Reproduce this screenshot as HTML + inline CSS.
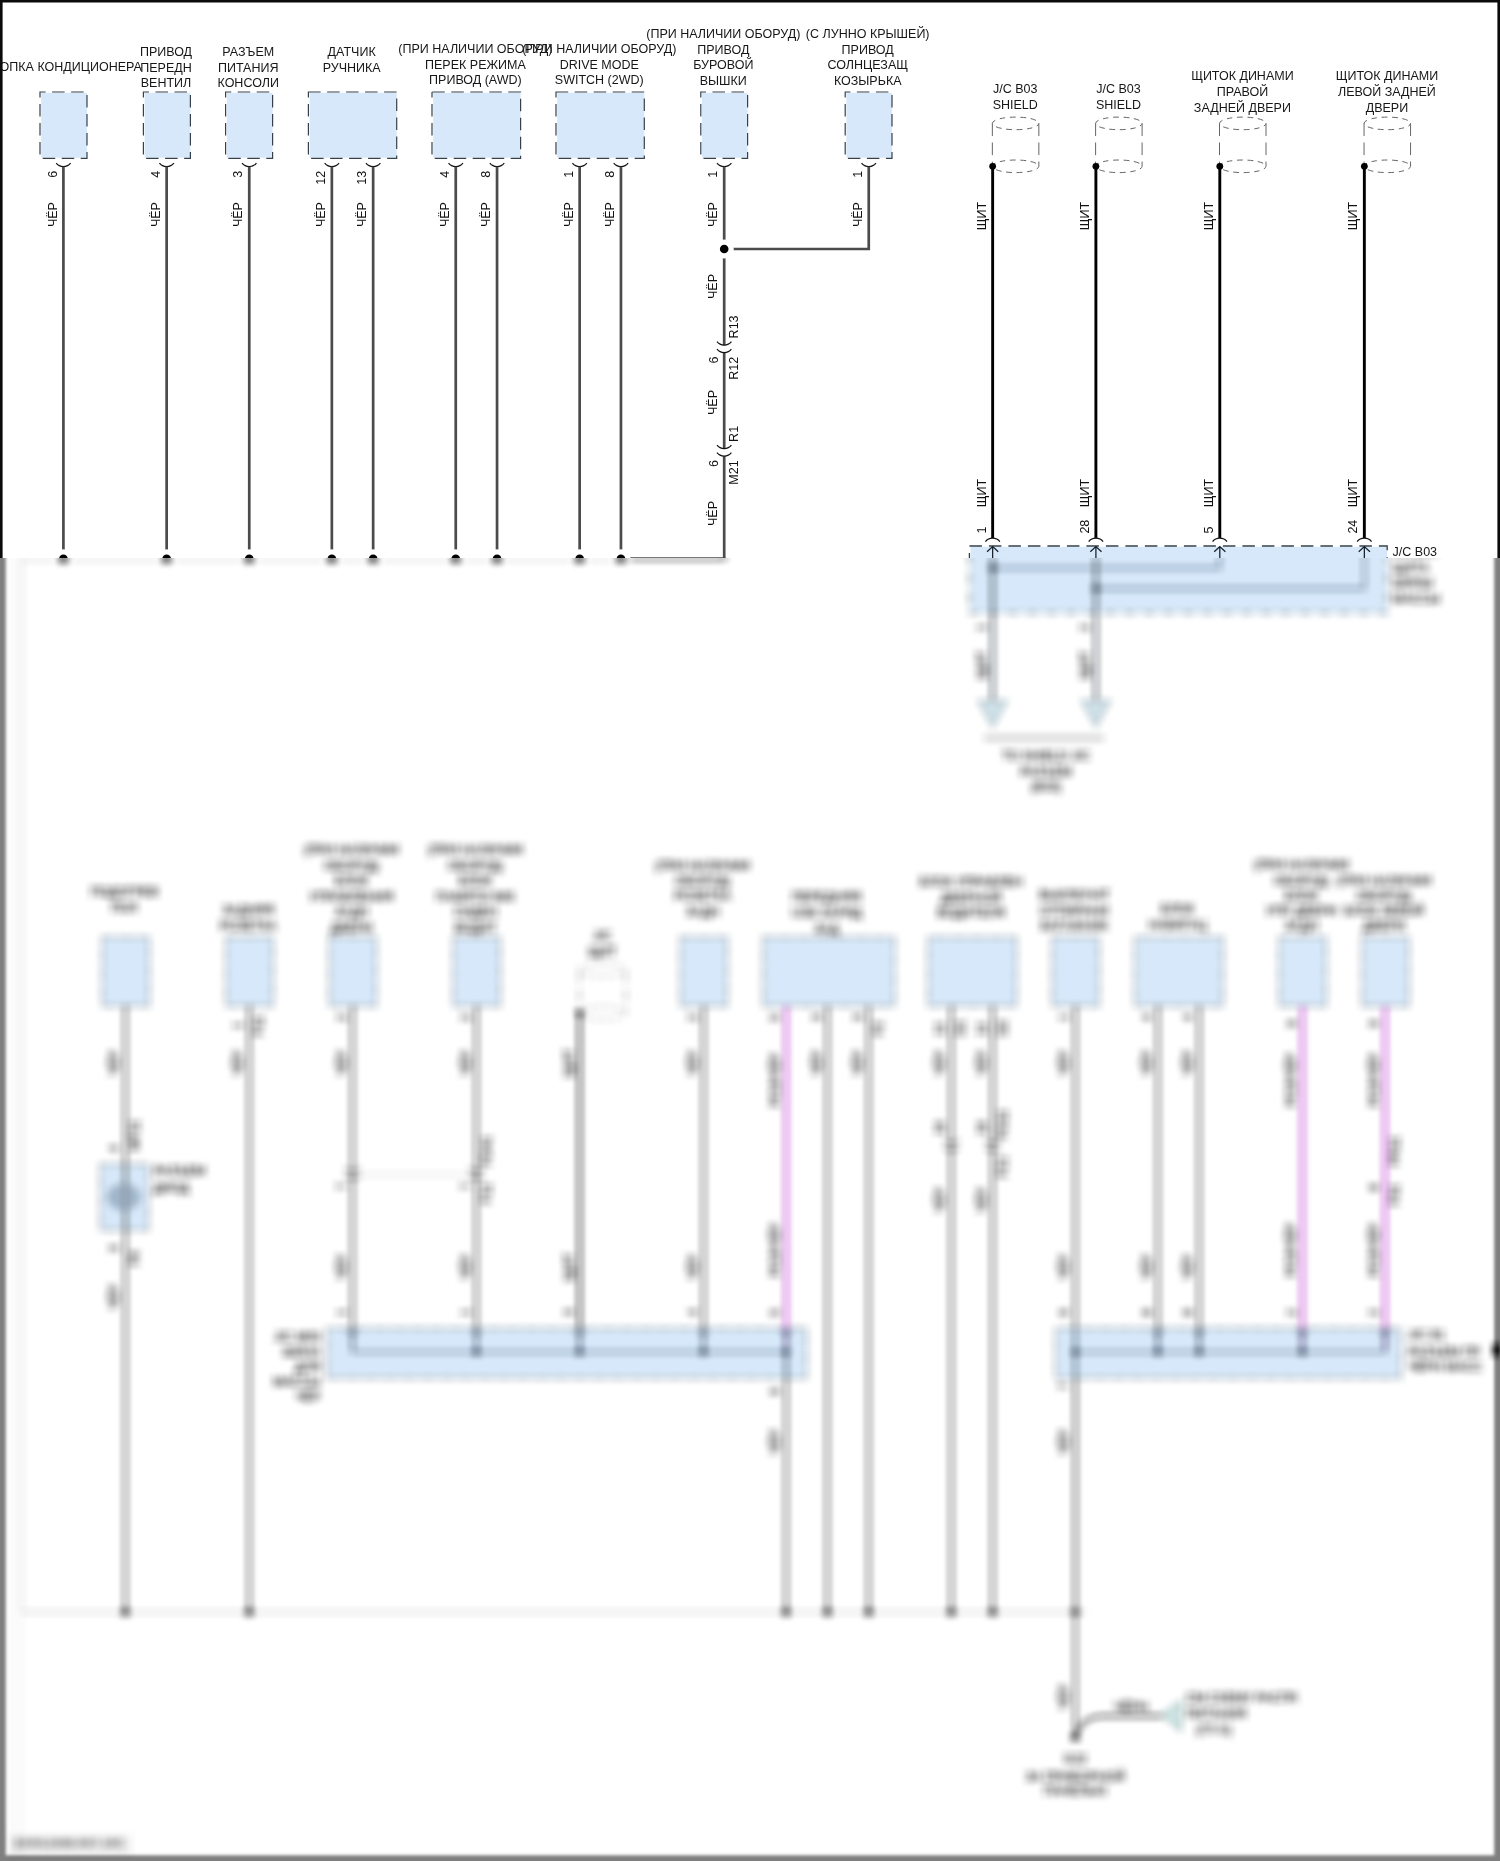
<!DOCTYPE html>
<html lang="ru">
<head>
<meta charset="utf-8">
<title>Схема электрических соединений</title>
<style>
html,body{margin:0;padding:0;background:#fff;}
#page{position:relative;width:1500px;height:1861px;overflow:hidden;background:#fff;}
#page svg{position:absolute;left:0;top:0;display:block;will-change:transform;}
#page text{font-family:"Liberation Sans",sans-serif;}
#bottom text{fill:#1c1c1c;stroke:#1c1c1c;stroke-width:.3px;}
#bottom text.code{fill:#666;stroke:none;}
#edge-l{position:absolute;left:0;top:558px;width:32px;height:1303px;background:linear-gradient(to right,rgba(0,0,0,0) 0,rgba(0,0,0,0) 7px,rgba(0,0,0,.016) 12px,rgba(0,0,0,.016) 22px,rgba(0,0,0,0) 29px);}
</style>
</head>
<body>
<div id="page">
<svg width="1500" height="1861" viewBox="0 0 1500 1861">
<defs>
<clipPath id="ctop"><rect x="0" y="0" width="1500" height="558"/></clipPath>
<clipPath id="cbot"><rect x="0" y="558" width="1500" height="1303"/></clipPath>
<filter id="edgeblur" filterUnits="userSpaceOnUse" x="-30" y="480" width="1560" height="1420"><feGaussianBlur stdDeviation="1.4"/></filter>
<filter id="soft" filterUnits="userSpaceOnUse" x="0" y="540" width="1500" height="1326" color-interpolation-filters="sRGB">
<feConvolveMatrix order="11 1" kernelMatrix="1 1 1 1 1 1 1 1 1 1 1" divisor="11" edgeMode="duplicate" preserveAlpha="false" result="a"/><feConvolveMatrix in="a" order="1 11" kernelMatrix="1 1 1 1 1 1 1 1 1 1 1" divisor="11" edgeMode="duplicate" preserveAlpha="false" result="b"/><feGaussianBlur in="b" stdDeviation="1.8"/>
</filter>
<g id="dwg">
<g id="top">
<path d="M620.95,558.60H725.55" stroke="#4b4b4b" stroke-width="2.7" fill="none"/>
<path d="M22.00,559.60H620.95" stroke="#9a9a9a" stroke-width="1" fill="none"/>
<rect x="41.20" y="92.80" width="45.80" height="64.90" fill="#d6e8f9"/>
<path d="M40.00,92.00V158.30H87.00V92.00Z" fill="none" stroke="#36414b" stroke-width="1.2" stroke-dasharray="12.5 6.5" stroke-dashoffset="7"/>
<text x="62.60" y="71.40" text-anchor="middle" font-size="12.5" fill="#161616">КНОПКА КОНДИЦИОНЕРА</text>
<path d="M56.20,163.10Q58.80,166.50 63.40,166.50Q68.00,166.50 70.60,163.10" stroke="#111" stroke-width="1.25" fill="none"/>
<text transform="translate(56.50,170.80) rotate(-90)" text-anchor="end" font-size="12.5" fill="#111">6</text>
<text transform="translate(56.50,214.60) rotate(-90)" text-anchor="middle" font-size="12.5" fill="#111">ЧЁР</text>
<path d="M63.40,166.70V558.60" stroke="#4b4b4b" stroke-width="2.7" fill="none"/>
<circle cx="63.40" cy="558.80" r="9.6" fill="#fff"/>
<circle cx="63.40" cy="558.80" r="4.3" fill="#000"/>
<rect x="144.60" y="92.80" width="45.80" height="64.90" fill="#d6e8f9"/>
<path d="M143.40,92.00V158.30H190.40V92.00Z" fill="none" stroke="#36414b" stroke-width="1.2" stroke-dasharray="12.5 6.5" stroke-dashoffset="7"/>
<text x="166.00" y="56.00" text-anchor="middle" font-size="12.5" fill="#161616">ПРИВОД</text>
<text x="166.00" y="71.50" text-anchor="middle" font-size="12.5" fill="#161616">ПЕРЕДН</text>
<text x="166.00" y="87.00" text-anchor="middle" font-size="12.5" fill="#161616">ВЕНТИЛ</text>
<path d="M159.45,163.10Q162.05,166.50 166.65,166.50Q171.25,166.50 173.85,163.10" stroke="#111" stroke-width="1.25" fill="none"/>
<text transform="translate(159.75,170.80) rotate(-90)" text-anchor="end" font-size="12.5" fill="#111">4</text>
<text transform="translate(159.75,214.60) rotate(-90)" text-anchor="middle" font-size="12.5" fill="#111">ЧЁР</text>
<path d="M166.65,166.70V558.60" stroke="#4b4b4b" stroke-width="2.7" fill="none"/>
<circle cx="166.65" cy="558.80" r="9.6" fill="#fff"/>
<circle cx="166.65" cy="558.80" r="4.3" fill="#000"/>
<rect x="226.80" y="92.80" width="45.80" height="64.90" fill="#d6e8f9"/>
<path d="M225.60,92.00V158.30H272.60V92.00Z" fill="none" stroke="#36414b" stroke-width="1.2" stroke-dasharray="12.5 6.5" stroke-dashoffset="7"/>
<text x="248.20" y="56.00" text-anchor="middle" font-size="12.5" fill="#161616">РАЗЪЕМ</text>
<text x="248.20" y="71.50" text-anchor="middle" font-size="12.5" fill="#161616">ПИТАНИЯ</text>
<text x="248.20" y="87.00" text-anchor="middle" font-size="12.5" fill="#161616">КОНСОЛИ</text>
<path d="M242.05,163.10Q244.65,166.50 249.25,166.50Q253.85,166.50 256.45,163.10" stroke="#111" stroke-width="1.25" fill="none"/>
<text transform="translate(242.35,170.80) rotate(-90)" text-anchor="end" font-size="12.5" fill="#111">3</text>
<text transform="translate(242.35,214.60) rotate(-90)" text-anchor="middle" font-size="12.5" fill="#111">ЧЁР</text>
<path d="M249.25,166.70V558.60" stroke="#4b4b4b" stroke-width="2.7" fill="none"/>
<circle cx="249.25" cy="558.80" r="9.6" fill="#fff"/>
<circle cx="249.25" cy="558.80" r="4.3" fill="#000"/>
<rect x="309.60" y="92.80" width="87.10" height="64.90" fill="#d6e8f9"/>
<path d="M308.40,92.00V158.30H396.70V92.00Z" fill="none" stroke="#36414b" stroke-width="1.2" stroke-dasharray="12.5 6.5" stroke-dashoffset="7"/>
<text x="351.65" y="56.00" text-anchor="middle" font-size="12.5" fill="#161616">ДАТЧИК</text>
<text x="351.65" y="71.50" text-anchor="middle" font-size="12.5" fill="#161616">РУЧНИКА</text>
<path d="M324.65,163.10Q327.25,166.50 331.85,166.50Q336.45,166.50 339.05,163.10" stroke="#111" stroke-width="1.25" fill="none"/>
<text transform="translate(324.95,170.80) rotate(-90)" text-anchor="end" font-size="12.5" fill="#111">12</text>
<text transform="translate(324.95,214.60) rotate(-90)" text-anchor="middle" font-size="12.5" fill="#111">ЧЁР</text>
<path d="M331.85,166.70V558.60" stroke="#4b4b4b" stroke-width="2.7" fill="none"/>
<circle cx="331.85" cy="558.80" r="9.6" fill="#fff"/>
<circle cx="331.85" cy="558.80" r="4.3" fill="#000"/>
<path d="M365.95,163.10Q368.55,166.50 373.15,166.50Q377.75,166.50 380.35,163.10" stroke="#111" stroke-width="1.25" fill="none"/>
<text transform="translate(366.25,170.80) rotate(-90)" text-anchor="end" font-size="12.5" fill="#111">13</text>
<text transform="translate(366.25,214.60) rotate(-90)" text-anchor="middle" font-size="12.5" fill="#111">ЧЁР</text>
<path d="M373.15,166.70V558.60" stroke="#4b4b4b" stroke-width="2.7" fill="none"/>
<circle cx="373.15" cy="558.80" r="9.6" fill="#fff"/>
<circle cx="373.15" cy="558.80" r="4.3" fill="#000"/>
<rect x="433.20" y="92.80" width="87.40" height="64.90" fill="#d6e8f9"/>
<path d="M432.00,92.00V158.30H520.60V92.00Z" fill="none" stroke="#36414b" stroke-width="1.2" stroke-dasharray="12.5 6.5" stroke-dashoffset="7"/>
<text x="475.40" y="53.40" text-anchor="middle" font-size="12.5" fill="#161616">(ПРИ НАЛИЧИИ ОБОРУД)</text>
<text x="475.40" y="68.90" text-anchor="middle" font-size="12.5" fill="#161616">ПЕРЕК РЕЖИМА</text>
<text x="475.40" y="84.40" text-anchor="middle" font-size="12.5" fill="#161616">ПРИВОД (AWD)</text>
<path d="M448.55,163.10Q451.15,166.50 455.75,166.50Q460.35,166.50 462.95,163.10" stroke="#111" stroke-width="1.25" fill="none"/>
<text transform="translate(448.85,170.80) rotate(-90)" text-anchor="end" font-size="12.5" fill="#111">4</text>
<text transform="translate(448.85,214.60) rotate(-90)" text-anchor="middle" font-size="12.5" fill="#111">ЧЁР</text>
<path d="M455.75,166.70V558.60" stroke="#4b4b4b" stroke-width="2.7" fill="none"/>
<circle cx="455.75" cy="558.80" r="9.6" fill="#fff"/>
<circle cx="455.75" cy="558.80" r="4.3" fill="#000"/>
<path d="M489.85,163.10Q492.45,166.50 497.05,166.50Q501.65,166.50 504.25,163.10" stroke="#111" stroke-width="1.25" fill="none"/>
<text transform="translate(490.15,170.80) rotate(-90)" text-anchor="end" font-size="12.5" fill="#111">8</text>
<text transform="translate(490.15,214.60) rotate(-90)" text-anchor="middle" font-size="12.5" fill="#111">ЧЁР</text>
<path d="M497.05,166.70V558.60" stroke="#4b4b4b" stroke-width="2.7" fill="none"/>
<circle cx="497.05" cy="558.80" r="9.6" fill="#fff"/>
<circle cx="497.05" cy="558.80" r="4.3" fill="#000"/>
<rect x="557.20" y="92.80" width="87.10" height="64.90" fill="#d6e8f9"/>
<path d="M556.00,92.00V158.30H644.30V92.00Z" fill="none" stroke="#36414b" stroke-width="1.2" stroke-dasharray="12.5 6.5" stroke-dashoffset="7"/>
<text x="599.25" y="53.40" text-anchor="middle" font-size="12.5" fill="#161616">(ПРИ НАЛИЧИИ ОБОРУД)</text>
<text x="599.25" y="68.90" text-anchor="middle" font-size="12.5" fill="#161616">DRIVE MODE</text>
<text x="599.25" y="84.40" text-anchor="middle" font-size="12.5" fill="#161616">SWITCH (2WD)</text>
<path d="M572.45,163.10Q575.05,166.50 579.65,166.50Q584.25,166.50 586.85,163.10" stroke="#111" stroke-width="1.25" fill="none"/>
<text transform="translate(572.75,170.80) rotate(-90)" text-anchor="end" font-size="12.5" fill="#111">1</text>
<text transform="translate(572.75,214.60) rotate(-90)" text-anchor="middle" font-size="12.5" fill="#111">ЧЁР</text>
<path d="M579.65,166.70V558.60" stroke="#4b4b4b" stroke-width="2.7" fill="none"/>
<circle cx="579.65" cy="558.80" r="9.6" fill="#fff"/>
<circle cx="579.65" cy="558.80" r="4.3" fill="#000"/>
<path d="M613.75,163.10Q616.35,166.50 620.95,166.50Q625.55,166.50 628.15,163.10" stroke="#111" stroke-width="1.25" fill="none"/>
<text transform="translate(614.05,170.80) rotate(-90)" text-anchor="end" font-size="12.5" fill="#111">8</text>
<text transform="translate(614.05,214.60) rotate(-90)" text-anchor="middle" font-size="12.5" fill="#111">ЧЁР</text>
<path d="M620.95,166.70V558.60" stroke="#4b4b4b" stroke-width="2.7" fill="none"/>
<circle cx="620.95" cy="558.80" r="9.6" fill="#fff"/>
<circle cx="620.95" cy="558.80" r="4.3" fill="#000"/>
<rect x="702.00" y="92.80" width="45.60" height="64.90" fill="#d6e8f9"/>
<path d="M700.80,92.00V158.30H747.60V92.00Z" fill="none" stroke="#36414b" stroke-width="1.2" stroke-dasharray="12.5 6.5" stroke-dashoffset="7"/>
<text x="723.30" y="38.20" text-anchor="middle" font-size="12.5" fill="#161616">(ПРИ НАЛИЧИИ ОБОРУД)</text>
<text x="723.30" y="53.70" text-anchor="middle" font-size="12.5" fill="#161616">ПРИВОД</text>
<text x="723.30" y="69.20" text-anchor="middle" font-size="12.5" fill="#161616">БУРОВОЙ</text>
<text x="723.30" y="84.70" text-anchor="middle" font-size="12.5" fill="#161616">ВЫШКИ</text>
<path d="M717.00,163.10Q719.60,166.50 724.20,166.50Q728.80,166.50 731.40,163.10" stroke="#111" stroke-width="1.25" fill="none"/>
<text transform="translate(717.30,170.80) rotate(-90)" text-anchor="end" font-size="12.5" fill="#111">1</text>
<text transform="translate(717.30,214.60) rotate(-90)" text-anchor="middle" font-size="12.5" fill="#111">ЧЁР</text>
<path d="M724.20,166.70V558.60" stroke="#4b4b4b" stroke-width="2.7" fill="none"/>
<rect x="846.40" y="92.80" width="45.60" height="64.90" fill="#d6e8f9"/>
<path d="M845.20,92.00V158.30H892.00V92.00Z" fill="none" stroke="#36414b" stroke-width="1.2" stroke-dasharray="12.5 6.5" stroke-dashoffset="7"/>
<text x="867.70" y="38.20" text-anchor="middle" font-size="12.5" fill="#161616">(С ЛУННО КРЫШЕЙ)</text>
<text x="867.70" y="53.70" text-anchor="middle" font-size="12.5" fill="#161616">ПРИВОД</text>
<text x="867.70" y="69.20" text-anchor="middle" font-size="12.5" fill="#161616">СОЛНЦЕЗАЩ</text>
<text x="867.70" y="84.70" text-anchor="middle" font-size="12.5" fill="#161616">КОЗЫРЬКА</text>
<path d="M861.55,163.10Q864.15,166.50 868.75,166.50Q873.35,166.50 875.95,163.10" stroke="#111" stroke-width="1.25" fill="none"/>
<text transform="translate(861.85,170.80) rotate(-90)" text-anchor="end" font-size="12.5" fill="#111">1</text>
<text transform="translate(861.85,214.60) rotate(-90)" text-anchor="middle" font-size="12.5" fill="#111">ЧЁР</text>
<path d="M868.75,166.7V249H724.20" stroke="#4b4b4b" stroke-width="2.7" fill="none"/>
<circle cx="724.20" cy="249.00" r="9.6" fill="#fff"/>
<circle cx="724.20" cy="249.00" r="4.3" fill="#000"/>
<rect x="721.2" y="345.3" width="6" height="7.3" fill="#fff"/>
<path d="M717.00,341.70Q719.60,345.10 724.20,345.10Q728.80,345.10 731.40,341.70" stroke="#111" stroke-width="1.25" fill="none"/>
<path d="M717.00,349.10Q719.60,352.50 724.20,352.50Q728.80,352.50 731.40,349.10" stroke="#111" stroke-width="1.25" fill="none"/>
<text transform="translate(717.60,356.50) rotate(-90)" text-anchor="end" font-size="12.5" fill="#111">6</text>
<text transform="translate(738.30,356.80) rotate(-90)" text-anchor="end" font-size="12.5" fill="#111">R12</text>
<text transform="translate(738.30,338.40) rotate(-90)" text-anchor="start" font-size="12.5" fill="#111">R13</text>
<rect x="721.2" y="448.8" width="6" height="7.3" fill="#fff"/>
<path d="M717.00,445.20Q719.60,448.60 724.20,448.60Q728.80,448.60 731.40,445.20" stroke="#111" stroke-width="1.25" fill="none"/>
<path d="M717.00,452.60Q719.60,456.00 724.20,456.00Q728.80,456.00 731.40,452.60" stroke="#111" stroke-width="1.25" fill="none"/>
<text transform="translate(717.60,460.00) rotate(-90)" text-anchor="end" font-size="12.5" fill="#111">6</text>
<text transform="translate(738.30,460.30) rotate(-90)" text-anchor="end" font-size="12.5" fill="#111">M21</text>
<text transform="translate(738.30,441.90) rotate(-90)" text-anchor="start" font-size="12.5" fill="#111">R1</text>
<text transform="translate(717.30,286.50) rotate(-90)" text-anchor="middle" font-size="12.5" fill="#111">ЧЁР</text>
<text transform="translate(717.30,402.50) rotate(-90)" text-anchor="middle" font-size="12.5" fill="#111">ЧЁР</text>
<text transform="translate(717.30,513.50) rotate(-90)" text-anchor="middle" font-size="12.5" fill="#111">ЧЁР</text>
<rect x="970.6" y="546.8" width="416.6000000000001" height="65.6" fill="#d6e8f9"/>
<path d="M969.4,558.5V546.0H1387.2V558.5" fill="none" stroke="#36414b" stroke-width="1.3" stroke-dasharray="12.5 7" stroke-dashoffset="7"/>
<path d="M969.4,558.5V613.0H1387.2V558.5" fill="none" stroke="#4f5b67" stroke-width="1.25" stroke-dasharray="12.5 7" stroke-dashoffset="6"/>
<ellipse cx="1015.60" cy="123.40" rx="23.25" ry="6.3" fill="none" stroke="#666" stroke-width="1" stroke-dasharray="5.6 4.6" stroke-dashoffset="2"/>
<ellipse cx="1015.60" cy="166.30" rx="23.25" ry="6.3" fill="none" stroke="#666" stroke-width="1" stroke-dasharray="5.6 4.6" stroke-dashoffset="2"/>
<path d="M992.35,123.40V166.30" stroke="#666" stroke-width="1" stroke-dasharray="12.6 6.5" fill="none"/>
<path d="M1038.85,123.40V166.30" stroke="#666" stroke-width="1" stroke-dasharray="12.6 6.5" fill="none"/>
<text x="1015.25" y="93.30" text-anchor="middle" font-size="12.5" fill="#161616">J/C B03</text>
<text x="1015.25" y="108.90" text-anchor="middle" font-size="12.5" fill="#161616">SHIELD</text>
<path d="M992.65,166.30V538.20" stroke="#000" stroke-width="2.9" fill="none"/>
<circle cx="992.65" cy="166.3" r="3.4" fill="#000"/>
<rect x="984.65" y="538.4" width="16" height="6.6" fill="#fff"/>
<path d="M985.45,541.60Q988.05,538.20 992.65,538.20Q997.25,538.20 999.85,541.60" stroke="#111" stroke-width="1.25" fill="none"/>
<path d="M992.65,546.3V560M987.05,551.8L992.65,546.6L998.25,551.8" stroke="#15202b" stroke-width="1.25" fill="none"/>
<text transform="translate(985.55,216.00) rotate(-90)" text-anchor="middle" font-size="12.5" fill="#111">ЩИТ</text>
<text transform="translate(985.55,493.00) rotate(-90)" text-anchor="middle" font-size="12.5" fill="#111">ЩИТ</text>
<text transform="translate(985.55,533.60) rotate(-90)" text-anchor="start" font-size="12.5" fill="#111">1</text>
<ellipse cx="1118.85" cy="123.40" rx="23.25" ry="6.3" fill="none" stroke="#666" stroke-width="1" stroke-dasharray="5.6 4.6" stroke-dashoffset="2"/>
<ellipse cx="1118.85" cy="166.30" rx="23.25" ry="6.3" fill="none" stroke="#666" stroke-width="1" stroke-dasharray="5.6 4.6" stroke-dashoffset="2"/>
<path d="M1095.60,123.40V166.30" stroke="#666" stroke-width="1" stroke-dasharray="12.6 6.5" fill="none"/>
<path d="M1142.10,123.40V166.30" stroke="#666" stroke-width="1" stroke-dasharray="12.6 6.5" fill="none"/>
<text x="1118.50" y="93.30" text-anchor="middle" font-size="12.5" fill="#161616">J/C B03</text>
<text x="1118.50" y="108.90" text-anchor="middle" font-size="12.5" fill="#161616">SHIELD</text>
<path d="M1095.90,166.30V538.20" stroke="#000" stroke-width="2.9" fill="none"/>
<circle cx="1095.90" cy="166.3" r="3.4" fill="#000"/>
<rect x="1087.9" y="538.4" width="16" height="6.6" fill="#fff"/>
<path d="M1088.70,541.60Q1091.30,538.20 1095.90,538.20Q1100.50,538.20 1103.10,541.60" stroke="#111" stroke-width="1.25" fill="none"/>
<path d="M1095.90,546.3V560M1090.30,551.8L1095.90,546.6L1101.50,551.8" stroke="#15202b" stroke-width="1.25" fill="none"/>
<text transform="translate(1088.80,216.00) rotate(-90)" text-anchor="middle" font-size="12.5" fill="#111">ЩИТ</text>
<text transform="translate(1088.80,493.00) rotate(-90)" text-anchor="middle" font-size="12.5" fill="#111">ЩИТ</text>
<text transform="translate(1088.80,533.60) rotate(-90)" text-anchor="start" font-size="12.5" fill="#111">28</text>
<ellipse cx="1242.75" cy="123.40" rx="23.25" ry="6.3" fill="none" stroke="#666" stroke-width="1" stroke-dasharray="5.6 4.6" stroke-dashoffset="2"/>
<ellipse cx="1242.75" cy="166.30" rx="23.25" ry="6.3" fill="none" stroke="#666" stroke-width="1" stroke-dasharray="5.6 4.6" stroke-dashoffset="2"/>
<path d="M1219.50,123.40V166.30" stroke="#666" stroke-width="1" stroke-dasharray="12.6 6.5" fill="none"/>
<path d="M1266.00,123.40V166.30" stroke="#666" stroke-width="1" stroke-dasharray="12.6 6.5" fill="none"/>
<text x="1242.40" y="80.40" text-anchor="middle" font-size="12.5" fill="#161616">ЩИТОК ДИНАМИ</text>
<text x="1242.40" y="96.00" text-anchor="middle" font-size="12.5" fill="#161616">ПРАВОЙ</text>
<text x="1242.40" y="111.60" text-anchor="middle" font-size="12.5" fill="#161616">ЗАДНЕЙ ДВЕРИ</text>
<path d="M1219.80,166.30V538.20" stroke="#000" stroke-width="2.9" fill="none"/>
<circle cx="1219.80" cy="166.3" r="3.4" fill="#000"/>
<rect x="1211.8" y="538.4" width="16" height="6.6" fill="#fff"/>
<path d="M1212.60,541.60Q1215.20,538.20 1219.80,538.20Q1224.40,538.20 1227.00,541.60" stroke="#111" stroke-width="1.25" fill="none"/>
<path d="M1219.80,546.3V560M1214.20,551.8L1219.80,546.6L1225.40,551.8" stroke="#15202b" stroke-width="1.25" fill="none"/>
<text transform="translate(1212.70,216.00) rotate(-90)" text-anchor="middle" font-size="12.5" fill="#111">ЩИТ</text>
<text transform="translate(1212.70,493.00) rotate(-90)" text-anchor="middle" font-size="12.5" fill="#111">ЩИТ</text>
<text transform="translate(1212.70,533.60) rotate(-90)" text-anchor="start" font-size="12.5" fill="#111">5</text>
<ellipse cx="1387.30" cy="123.40" rx="23.25" ry="6.3" fill="none" stroke="#666" stroke-width="1" stroke-dasharray="5.6 4.6" stroke-dashoffset="2"/>
<ellipse cx="1387.30" cy="166.30" rx="23.25" ry="6.3" fill="none" stroke="#666" stroke-width="1" stroke-dasharray="5.6 4.6" stroke-dashoffset="2"/>
<path d="M1364.05,123.40V166.30" stroke="#666" stroke-width="1" stroke-dasharray="12.6 6.5" fill="none"/>
<path d="M1410.55,123.40V166.30" stroke="#666" stroke-width="1" stroke-dasharray="12.6 6.5" fill="none"/>
<text x="1386.95" y="80.40" text-anchor="middle" font-size="12.5" fill="#161616">ЩИТОК ДИНАМИ</text>
<text x="1386.95" y="96.00" text-anchor="middle" font-size="12.5" fill="#161616">ЛЕВОЙ ЗАДНЕЙ</text>
<text x="1386.95" y="111.60" text-anchor="middle" font-size="12.5" fill="#161616">ДВЕРИ</text>
<path d="M1364.35,166.30V538.20" stroke="#000" stroke-width="2.9" fill="none"/>
<circle cx="1364.35" cy="166.3" r="3.4" fill="#000"/>
<rect x="1356.35" y="538.4" width="16" height="6.6" fill="#fff"/>
<path d="M1357.15,541.60Q1359.75,538.20 1364.35,538.20Q1368.95,538.20 1371.55,541.60" stroke="#111" stroke-width="1.25" fill="none"/>
<path d="M1364.35,546.3V560M1358.75,551.8L1364.35,546.6L1369.95,551.8" stroke="#15202b" stroke-width="1.25" fill="none"/>
<text transform="translate(1357.25,216.00) rotate(-90)" text-anchor="middle" font-size="12.5" fill="#111">ЩИТ</text>
<text transform="translate(1357.25,493.00) rotate(-90)" text-anchor="middle" font-size="12.5" fill="#111">ЩИТ</text>
<text transform="translate(1357.25,533.60) rotate(-90)" text-anchor="start" font-size="12.5" fill="#111">24</text>
<text x="1392.60" y="555.60" text-anchor="start" font-size="12.5" fill="#161616">J/C B03</text>
</g>
<g id="bottom">
<path d="M1219.8,558V568H992.65" stroke="#7389a0" stroke-width="2.4" fill="none"/>
<path d="M1364.35,558V588.5H1095.9" stroke="#7389a0" stroke-width="2.4" fill="none"/>
<path d="M992.65,558.00V704.00" stroke="#3c4650" stroke-width="2.7" fill="none"/>
<circle cx="992.65" cy="568.00" r="3.8" fill="#2c3d4e"/>
<text transform="translate(985.55,624.00) rotate(-90)" text-anchor="end" font-size="12.5" fill="#111">1</text>
<text transform="translate(985.55,665.00) rotate(-90)" text-anchor="middle" font-size="12.5" fill="#111">ЩИТ</text>
<path d="M978.15,700.5H1007.15L992.65,727Z" fill="#cfe1e8" stroke="#7f97a4" stroke-width="1.1"/>
<path d="M1095.90,558.00V704.00" stroke="#3c4650" stroke-width="2.7" fill="none"/>
<circle cx="1095.90" cy="588.50" r="3.8" fill="#2c3d4e"/>
<text transform="translate(1088.80,624.00) rotate(-90)" text-anchor="end" font-size="12.5" fill="#111">2</text>
<text transform="translate(1088.80,665.00) rotate(-90)" text-anchor="middle" font-size="12.5" fill="#111">ЩИТ</text>
<path d="M1081.40,700.5H1110.40L1095.90,727Z" fill="#cfe1e8" stroke="#7f97a4" stroke-width="1.1"/>
<text x="1392.60" y="571.50" text-anchor="start" font-size="12.5" fill="#161616">ЩИТА</text>
<text x="1392.60" y="587.00" text-anchor="start" font-size="12.5" fill="#161616">ШИНЫ</text>
<text x="1392.60" y="602.50" text-anchor="start" font-size="12.5" fill="#161616">МАССЫ</text>
<path d="M984.00,738.00H1104.00" stroke="#c9c9c9" stroke-width="5" fill="none"/>
<text x="1046.00" y="760.00" text-anchor="middle" font-size="12.5" fill="#161616">TO SHIELD J/C</text>
<text x="1046.00" y="776.00" text-anchor="middle" font-size="12.5" fill="#161616">РАЗЪЕМ</text>
<text x="1046.00" y="791.00" text-anchor="middle" font-size="12.5" fill="#161616">(B03)</text>
<rect x="103.25" y="937.80" width="45.80" height="67.60" fill="#d6e8f9"/>
<path d="M102.05,937.00V1006.00H149.05V937.00Z" fill="none" stroke="#949ca5" stroke-width="1.25"/>
<path d="M102.05,937.00V1006.00H149.05V937.00Z" fill="none" stroke="#5b6672" stroke-width="1.25" stroke-opacity=".45" stroke-dasharray="12.5 6.5" stroke-dashoffset="7"/>
<rect x="227.15" y="937.80" width="45.80" height="67.60" fill="#d6e8f9"/>
<path d="M225.95,937.00V1006.00H272.95V937.00Z" fill="none" stroke="#949ca5" stroke-width="1.25"/>
<path d="M225.95,937.00V1006.00H272.95V937.00Z" fill="none" stroke="#5b6672" stroke-width="1.25" stroke-opacity=".45" stroke-dasharray="12.5 6.5" stroke-dashoffset="7"/>
<rect x="330.40" y="937.80" width="45.80" height="67.60" fill="#d6e8f9"/>
<path d="M329.20,937.00V1006.00H376.20V937.00Z" fill="none" stroke="#949ca5" stroke-width="1.25"/>
<path d="M329.20,937.00V1006.00H376.20V937.00Z" fill="none" stroke="#5b6672" stroke-width="1.25" stroke-opacity=".45" stroke-dasharray="12.5 6.5" stroke-dashoffset="7"/>
<rect x="454.30" y="937.80" width="45.80" height="67.60" fill="#d6e8f9"/>
<path d="M453.10,937.00V1006.00H500.10V937.00Z" fill="none" stroke="#949ca5" stroke-width="1.25"/>
<path d="M453.10,937.00V1006.00H500.10V937.00Z" fill="none" stroke="#5b6672" stroke-width="1.25" stroke-opacity=".45" stroke-dasharray="12.5 6.5" stroke-dashoffset="7"/>
<rect x="681.45" y="937.80" width="45.80" height="67.60" fill="#d6e8f9"/>
<path d="M680.25,937.00V1006.00H727.25V937.00Z" fill="none" stroke="#949ca5" stroke-width="1.25"/>
<path d="M680.25,937.00V1006.00H727.25V937.00Z" fill="none" stroke="#5b6672" stroke-width="1.25" stroke-opacity=".45" stroke-dasharray="12.5 6.5" stroke-dashoffset="7"/>
<rect x="763.90" y="937.80" width="130.60" height="67.60" fill="#d6e8f9"/>
<path d="M762.70,937.00V1006.00H894.50V937.00Z" fill="none" stroke="#949ca5" stroke-width="1.25"/>
<path d="M762.70,937.00V1006.00H894.50V937.00Z" fill="none" stroke="#5b6672" stroke-width="1.25" stroke-opacity=".45" stroke-dasharray="12.5 6.5" stroke-dashoffset="7"/>
<rect x="929.25" y="937.80" width="87.10" height="67.60" fill="#d6e8f9"/>
<path d="M928.05,937.00V1006.00H1016.35V937.00Z" fill="none" stroke="#949ca5" stroke-width="1.25"/>
<path d="M928.05,937.00V1006.00H1016.35V937.00Z" fill="none" stroke="#5b6672" stroke-width="1.25" stroke-opacity=".45" stroke-dasharray="12.5 6.5" stroke-dashoffset="7"/>
<rect x="1053.15" y="937.80" width="45.80" height="67.60" fill="#d6e8f9"/>
<path d="M1051.95,937.00V1006.00H1098.95V937.00Z" fill="none" stroke="#949ca5" stroke-width="1.25"/>
<path d="M1051.95,937.00V1006.00H1098.95V937.00Z" fill="none" stroke="#5b6672" stroke-width="1.25" stroke-opacity=".45" stroke-dasharray="12.5 6.5" stroke-dashoffset="7"/>
<rect x="1135.75" y="937.80" width="87.10" height="67.60" fill="#d6e8f9"/>
<path d="M1134.55,937.00V1006.00H1222.85V937.00Z" fill="none" stroke="#949ca5" stroke-width="1.25"/>
<path d="M1134.55,937.00V1006.00H1222.85V937.00Z" fill="none" stroke="#5b6672" stroke-width="1.25" stroke-opacity=".45" stroke-dasharray="12.5 6.5" stroke-dashoffset="7"/>
<rect x="1280.30" y="937.80" width="45.80" height="67.60" fill="#d6e8f9"/>
<path d="M1279.10,937.00V1006.00H1326.10V937.00Z" fill="none" stroke="#949ca5" stroke-width="1.25"/>
<path d="M1279.10,937.00V1006.00H1326.10V937.00Z" fill="none" stroke="#5b6672" stroke-width="1.25" stroke-opacity=".45" stroke-dasharray="12.5 6.5" stroke-dashoffset="7"/>
<rect x="1362.90" y="937.80" width="45.80" height="67.60" fill="#d6e8f9"/>
<path d="M1361.70,937.00V1006.00H1408.70V937.00Z" fill="none" stroke="#949ca5" stroke-width="1.25"/>
<path d="M1361.70,937.00V1006.00H1408.70V937.00Z" fill="none" stroke="#5b6672" stroke-width="1.25" stroke-opacity=".45" stroke-dasharray="12.5 6.5" stroke-dashoffset="7"/>
<ellipse cx="602.60" cy="970.00" rx="23.25" ry="6.3" fill="none" stroke="#666" stroke-width="1" stroke-dasharray="5.6 4.6" stroke-dashoffset="2"/>
<ellipse cx="602.60" cy="1013.00" rx="23.25" ry="6.3" fill="none" stroke="#666" stroke-width="1" stroke-dasharray="5.6 4.6" stroke-dashoffset="2"/>
<path d="M579.35,970.00V1013.00" stroke="#666" stroke-width="1" stroke-dasharray="12.6 6.5" fill="none"/>
<path d="M625.85,970.00V1013.00" stroke="#666" stroke-width="1" stroke-dasharray="12.6 6.5" fill="none"/>
<text x="602.25" y="940.00" text-anchor="middle" font-size="12.5" fill="#161616">J/C</text>
<text x="602.25" y="955.50" text-anchor="middle" font-size="12.5" fill="#161616">ЩИТ</text>
<text x="124.35" y="896.48" text-anchor="middle" font-size="12.5" fill="#161616">ПОДОГРЕВ</text>
<text x="124.35" y="912.48" text-anchor="middle" font-size="12.5" fill="#161616">ПОЛ</text>
<text x="248.25" y="914.48" text-anchor="middle" font-size="12.5" fill="#161616">ЗАДНЯЯ</text>
<text x="248.25" y="930.48" text-anchor="middle" font-size="12.5" fill="#161616">РОЗЕТКА</text>
<text x="351.50" y="854.48" text-anchor="middle" font-size="12.5" fill="#161616">(ПРИ НАЛИЧИИ</text>
<text x="351.50" y="869.98" text-anchor="middle" font-size="12.5" fill="#161616">ОБОРУД)</text>
<text x="351.50" y="885.48" text-anchor="middle" font-size="12.5" fill="#161616">БЛОК</text>
<text x="351.50" y="900.98" text-anchor="middle" font-size="12.5" fill="#161616">УПРАВЛЕНИЯ</text>
<text x="351.50" y="916.48" text-anchor="middle" font-size="12.5" fill="#161616">ЗАДН</text>
<text x="351.50" y="931.98" text-anchor="middle" font-size="12.5" fill="#161616">ДВЕРИ</text>
<text x="475.40" y="854.48" text-anchor="middle" font-size="12.5" fill="#161616">(ПРИ НАЛИЧИИ</text>
<text x="475.40" y="869.98" text-anchor="middle" font-size="12.5" fill="#161616">ОБОРУД)</text>
<text x="475.40" y="885.48" text-anchor="middle" font-size="12.5" fill="#161616">БЛОК</text>
<text x="475.40" y="900.98" text-anchor="middle" font-size="12.5" fill="#161616">ПАМЯТИ IMS</text>
<text x="475.40" y="916.48" text-anchor="middle" font-size="12.5" fill="#161616">СИДЕН</text>
<text x="475.40" y="931.98" text-anchor="middle" font-size="12.5" fill="#161616">ВОДИТ</text>
<text x="702.55" y="870.48" text-anchor="middle" font-size="12.5" fill="#161616">(ПРИ НАЛИЧИИ</text>
<text x="702.55" y="885.48" text-anchor="middle" font-size="12.5" fill="#161616">ОБОРУД)</text>
<text x="702.55" y="900.48" text-anchor="middle" font-size="12.5" fill="#161616">РОЗЕТКА</text>
<text x="702.55" y="915.98" text-anchor="middle" font-size="12.5" fill="#161616">ЗАДН</text>
<text x="826.45" y="901.48" text-anchor="middle" font-size="12.5" fill="#161616">ПЕРЕДНЯЯ</text>
<text x="826.45" y="917.48" text-anchor="middle" font-size="12.5" fill="#161616">USB ЗАРЯД</text>
<text x="826.45" y="933.48" text-anchor="middle" font-size="12.5" fill="#161616">ЗАД</text>
<text x="971.00" y="886.48" text-anchor="middle" font-size="12.5" fill="#161616">БЛОК УПРАВЛЕН</text>
<text x="971.00" y="901.98" text-anchor="middle" font-size="12.5" fill="#161616">ДВЕРНОЙ</text>
<text x="971.00" y="916.98" text-anchor="middle" font-size="12.5" fill="#161616">ВОДИТЕЛЯ</text>
<text x="1074.25" y="899.48" text-anchor="middle" font-size="12.5" fill="#161616">ВЫКЛЮЧАТ</text>
<text x="1074.25" y="914.98" text-anchor="middle" font-size="12.5" fill="#161616">ОТПИРАНИ</text>
<text x="1074.25" y="930.48" text-anchor="middle" font-size="12.5" fill="#161616">БАГАЖНИК</text>
<text x="1177.50" y="913.48" text-anchor="middle" font-size="12.5" fill="#161616">БЛОК</text>
<text x="1177.50" y="928.98" text-anchor="middle" font-size="12.5" fill="#161616">НАВИГАЦ</text>
<text x="1301.40" y="869.48" text-anchor="middle" font-size="12.5" fill="#161616">(ПРИ НАЛИЧИИ</text>
<text x="1301.40" y="884.98" text-anchor="middle" font-size="12.5" fill="#161616">ОБОРУД)</text>
<text x="1301.40" y="899.98" text-anchor="middle" font-size="12.5" fill="#161616">БЛОК</text>
<text x="1301.40" y="914.98" text-anchor="middle" font-size="12.5" fill="#161616">УПР ДВЕРИ</text>
<text x="1301.40" y="930.48" text-anchor="middle" font-size="12.5" fill="#161616">ЗАДН</text>
<text x="1384.00" y="884.98" text-anchor="middle" font-size="12.5" fill="#161616">(ПРИ НАЛИЧИИ</text>
<text x="1384.00" y="899.98" text-anchor="middle" font-size="12.5" fill="#161616">ОБОРУД)</text>
<text x="1384.00" y="914.98" text-anchor="middle" font-size="12.5" fill="#161616">БЛОК ЛЕВОЙ</text>
<text x="1384.00" y="930.48" text-anchor="middle" font-size="12.5" fill="#161616">ДВЕРИ</text>
<path d="M22,558.6V1612.0" stroke="#cfcfcf" stroke-width="1" fill="none"/>
<path d="M22,1612.0H1085.25" stroke="#9a9a9a" stroke-width="1" fill="none"/>
<rect x="328.00" y="1328.80" width="478.50" height="48.60" fill="#d6e8f9"/>
<path d="M326.80,1328.00V1378.00H806.50V1328.00Z" fill="none" stroke="#949ca5" stroke-width="1.25"/>
<path d="M326.80,1328.00V1378.00H806.50V1328.00Z" fill="none" stroke="#5b6672" stroke-width="1.25" stroke-opacity=".45" stroke-dasharray="12.5 6.5" stroke-dashoffset="7"/>
<rect x="1056.70" y="1328.80" width="344.10" height="48.60" fill="#d6e8f9"/>
<path d="M1055.50,1328.00V1378.00H1400.80V1328.00Z" fill="none" stroke="#949ca5" stroke-width="1.25"/>
<path d="M1055.50,1328.00V1378.00H1400.80V1328.00Z" fill="none" stroke="#5b6672" stroke-width="1.25" stroke-opacity=".45" stroke-dasharray="12.5 6.5" stroke-dashoffset="7"/>
<rect x="101.40" y="1164.80" width="47.00" height="64.60" fill="#d6e8f9"/>
<path d="M100.20,1164.00V1230.00H148.40V1164.00Z" fill="none" stroke="#949ca5" stroke-width="1.25"/>
<path d="M100.20,1164.00V1230.00H148.40V1164.00Z" fill="none" stroke="#5b6672" stroke-width="1.25" stroke-opacity=".45" stroke-dasharray="12.5 6.5" stroke-dashoffset="7"/>
<path d="M125.35,1006.00V1612.00" stroke="#4b4b4b" stroke-width="2.6" fill="none"/>
<circle cx="125.35" cy="1612.00" r="4.3" fill="#333"/>
<text transform="translate(118.45,1063.00) rotate(-90)" text-anchor="middle" font-size="12.5" fill="#111">ЧЁР</text>
<text transform="translate(118.45,1297.00) rotate(-90)" text-anchor="middle" font-size="12.5" fill="#111">ЧЁР</text>
<ellipse cx="123.85" cy="1197" rx="17" ry="13.5" fill="#8398ad" opacity="0.62"/>
<text x="153.50" y="1174.50" text-anchor="start" font-size="12.5" fill="#161616">РАЗЪЕМ</text>
<text x="153.50" y="1192.00" text-anchor="start" font-size="12.5" fill="#161616">ДИОД</text>
<text transform="translate(139.45,1151.00) rotate(-90)" text-anchor="start" font-size="12.5" fill="#111">MF11</text>
<text transform="translate(118.45,1152.00) rotate(-90)" text-anchor="start" font-size="12.5" fill="#111">4</text>
<text transform="translate(139.45,1251.00) rotate(-90)" text-anchor="end" font-size="12.5" fill="#111">F9</text>
<text transform="translate(118.45,1245.00) rotate(-90)" text-anchor="end" font-size="12.5" fill="#111">3</text>
<path d="M249.25,1006.00V1612.00" stroke="#4b4b4b" stroke-width="2.6" fill="none"/>
<circle cx="249.25" cy="1612.00" r="4.3" fill="#333"/>
<text transform="translate(242.35,1063.00) rotate(-90)" text-anchor="middle" font-size="12.5" fill="#111">ЧЁР</text>
<text transform="translate(263.35,1036.00) rotate(-90)" text-anchor="start" font-size="12.5" fill="#111">F11</text>
<text transform="translate(242.35,1022.00) rotate(-90)" text-anchor="end" font-size="12.5" fill="#111">1</text>
<path d="M352.50,1006.00V1352.00" stroke="#4b4b4b" stroke-width="2.6" fill="none"/>
<text transform="translate(345.60,1063.00) rotate(-90)" text-anchor="middle" font-size="12.5" fill="#111">ЧЁР</text>
<text transform="translate(345.60,1267.00) rotate(-90)" text-anchor="middle" font-size="12.5" fill="#111">ЧЁР</text>
<text transform="translate(345.60,1014.00) rotate(-90)" text-anchor="end" font-size="12.5" fill="#111">2</text>
<text transform="translate(345.60,1316.00) rotate(-90)" text-anchor="start" font-size="12.5" fill="#111">1</text>
<text transform="translate(345.60,1183.00) rotate(-90)" text-anchor="end" font-size="12.5" fill="#111">7</text>
<path d="M345.30,1167.90Q347.90,1171.30 352.50,1171.30Q357.10,1171.30 359.70,1167.90" stroke="#111" stroke-width="1.25" fill="none"/>
<path d="M345.30,1175.40Q347.90,1178.80 352.50,1178.80Q357.10,1178.80 359.70,1175.40" stroke="#111" stroke-width="1.25" fill="none"/>
<path d="M476.40,1006.00V1352.00" stroke="#4b4b4b" stroke-width="2.6" fill="none"/>
<text transform="translate(469.50,1063.00) rotate(-90)" text-anchor="middle" font-size="12.5" fill="#111">ЧЁР</text>
<text transform="translate(469.50,1267.00) rotate(-90)" text-anchor="middle" font-size="12.5" fill="#111">ЧЁР</text>
<text transform="translate(469.50,1014.00) rotate(-90)" text-anchor="end" font-size="12.5" fill="#111">2</text>
<text transform="translate(469.50,1316.00) rotate(-90)" text-anchor="start" font-size="12.5" fill="#111">1</text>
<text transform="translate(469.50,1183.00) rotate(-90)" text-anchor="end" font-size="12.5" fill="#111">7</text>
<path d="M469.20,1167.90Q471.80,1171.30 476.40,1171.30Q481.00,1171.30 483.60,1167.90" stroke="#111" stroke-width="1.25" fill="none"/>
<path d="M469.20,1175.40Q471.80,1178.80 476.40,1178.80Q481.00,1178.80 483.60,1175.40" stroke="#111" stroke-width="1.25" fill="none"/>
<path d="M360.50,1175.00H468.40" stroke="#bbb" stroke-width="1" fill="none"/>
<text transform="translate(490.50,1166.00) rotate(-90)" text-anchor="start" font-size="12.5" fill="#111">FD41</text>
<text transform="translate(490.50,1183.00) rotate(-90)" text-anchor="end" font-size="12.5" fill="#111">F11</text>
<path d="M579.65,1013.00V1352.00" stroke="#222" stroke-width="2.9" fill="none"/>
<circle cx="579.65" cy="1013.00" r="3.4" fill="#000"/>
<text transform="translate(572.75,1063.00) rotate(-90)" text-anchor="middle" font-size="12.5" fill="#111">ЩИТ</text>
<text transform="translate(572.75,1267.00) rotate(-90)" text-anchor="middle" font-size="12.5" fill="#111">ЩИТ</text>
<text transform="translate(572.75,1316.00) rotate(-90)" text-anchor="start" font-size="12.5" fill="#111">3</text>
<path d="M703.55,1006.00V1352.00" stroke="#4b4b4b" stroke-width="2.6" fill="none"/>
<text transform="translate(696.65,1063.00) rotate(-90)" text-anchor="middle" font-size="12.5" fill="#111">ЧЁР</text>
<text transform="translate(696.65,1267.00) rotate(-90)" text-anchor="middle" font-size="12.5" fill="#111">ЧЁР</text>
<text transform="translate(696.65,1014.00) rotate(-90)" text-anchor="end" font-size="12.5" fill="#111">2</text>
<text transform="translate(696.65,1316.00) rotate(-90)" text-anchor="start" font-size="12.5" fill="#111">4</text>
<path d="M786.15,1006.00V1352.00" stroke="#cf74dc" stroke-width="4.2" fill="none"/>
<path d="M786.15,1352.00V1612.00" stroke="#4b4b4b" stroke-width="2.6" fill="none"/>
<circle cx="786.15" cy="1612.00" r="4.3" fill="#333"/>
<text transform="translate(778.75,1080.00) rotate(-90)" text-anchor="middle" font-size="12.5" fill="#111">РОЗ/ЧЁР</text>
<text transform="translate(778.75,1250.00) rotate(-90)" text-anchor="middle" font-size="12.5" fill="#111">РОЗ/ЧЁР</text>
<text transform="translate(779.25,1014.00) rotate(-90)" text-anchor="end" font-size="12.5" fill="#111">5</text>
<text transform="translate(779.25,1316.00) rotate(-90)" text-anchor="start" font-size="12.5" fill="#111">5</text>
<text transform="translate(779.25,1388.00) rotate(-90)" text-anchor="end" font-size="12.5" fill="#111">6</text>
<text transform="translate(779.25,1442.00) rotate(-90)" text-anchor="middle" font-size="12.5" fill="#111">ЧЁР</text>
<path d="M827.45,1006.00V1612.00" stroke="#4b4b4b" stroke-width="2.6" fill="none"/>
<circle cx="827.45" cy="1612.00" r="4.3" fill="#333"/>
<text transform="translate(820.55,1063.00) rotate(-90)" text-anchor="middle" font-size="12.5" fill="#111">ЧЁР</text>
<text transform="translate(820.55,1014.00) rotate(-90)" text-anchor="end" font-size="12.5" fill="#111">3</text>
<path d="M868.75,1006.00V1612.00" stroke="#4b4b4b" stroke-width="2.6" fill="none"/>
<circle cx="868.75" cy="1612.00" r="4.3" fill="#333"/>
<text transform="translate(861.85,1063.00) rotate(-90)" text-anchor="middle" font-size="12.5" fill="#111">ЧЁР</text>
<text transform="translate(861.85,1014.00) rotate(-90)" text-anchor="end" font-size="12.5" fill="#111">3</text>
<text transform="translate(882.85,1036.00) rotate(-90)" text-anchor="start" font-size="12.5" fill="#111">F2</text>
<path d="M951.35,1006.00V1612.00" stroke="#4b4b4b" stroke-width="2.6" fill="none"/>
<circle cx="951.35" cy="1612.00" r="4.3" fill="#333"/>
<text transform="translate(944.45,1063.00) rotate(-90)" text-anchor="middle" font-size="12.5" fill="#111">ЧЁР</text>
<text transform="translate(944.45,1200.00) rotate(-90)" text-anchor="middle" font-size="12.5" fill="#111">ЧЁР</text>
<text transform="translate(944.45,1022.00) rotate(-90)" text-anchor="end" font-size="12.5" fill="#111">12</text>
<text transform="translate(944.45,1135.00) rotate(-90)" text-anchor="start" font-size="12.5" fill="#111">19</text>
<path d="M944.15,1139.90Q946.75,1143.30 951.35,1143.30Q955.95,1143.30 958.55,1139.90" stroke="#111" stroke-width="1.25" fill="none"/>
<path d="M944.15,1147.40Q946.75,1150.80 951.35,1150.80Q955.95,1150.80 958.55,1147.40" stroke="#111" stroke-width="1.25" fill="none"/>
<path d="M992.65,1006.00V1612.00" stroke="#4b4b4b" stroke-width="2.6" fill="none"/>
<circle cx="992.65" cy="1612.00" r="4.3" fill="#333"/>
<text transform="translate(985.75,1063.00) rotate(-90)" text-anchor="middle" font-size="12.5" fill="#111">ЧЁР</text>
<text transform="translate(985.75,1200.00) rotate(-90)" text-anchor="middle" font-size="12.5" fill="#111">ЧЁР</text>
<text transform="translate(985.75,1022.00) rotate(-90)" text-anchor="end" font-size="12.5" fill="#111">12</text>
<text transform="translate(985.75,1135.00) rotate(-90)" text-anchor="start" font-size="12.5" fill="#111">19</text>
<path d="M985.45,1139.90Q988.05,1143.30 992.65,1143.30Q997.25,1143.30 999.85,1139.90" stroke="#111" stroke-width="1.25" fill="none"/>
<path d="M985.45,1147.40Q988.05,1150.80 992.65,1150.80Q997.25,1150.80 999.85,1147.40" stroke="#111" stroke-width="1.25" fill="none"/>
<text transform="translate(965.45,1036.00) rotate(-90)" text-anchor="start" font-size="12.5" fill="#111">D1</text>
<text transform="translate(1006.75,1036.00) rotate(-90)" text-anchor="start" font-size="12.5" fill="#111">D2</text>
<text transform="translate(1006.75,1139.00) rotate(-90)" text-anchor="start" font-size="12.5" fill="#111">FD11</text>
<text transform="translate(1006.75,1156.00) rotate(-90)" text-anchor="end" font-size="12.5" fill="#111">F21</text>
<path d="M1075.25,1006.00V1612.00" stroke="#4b4b4b" stroke-width="2.6" fill="none"/>
<circle cx="1075.25" cy="1612.00" r="4.3" fill="#333"/>
<path d="M1075.25,1612.00V1737.00" stroke="#4b4b4b" stroke-width="2.6" fill="none"/>
<circle cx="1075.25" cy="1737.00" r="4.3" fill="#222"/>
<text transform="translate(1068.35,1063.00) rotate(-90)" text-anchor="middle" font-size="12.5" fill="#111">ЧЁР</text>
<text transform="translate(1068.35,1267.00) rotate(-90)" text-anchor="middle" font-size="12.5" fill="#111">ЧЁР</text>
<text transform="translate(1068.35,1014.00) rotate(-90)" text-anchor="end" font-size="12.5" fill="#111">1</text>
<text transform="translate(1068.35,1316.00) rotate(-90)" text-anchor="start" font-size="12.5" fill="#111">6</text>
<text transform="translate(1068.35,1383.00) rotate(-90)" text-anchor="end" font-size="12.5" fill="#111">7</text>
<text transform="translate(1068.35,1442.00) rotate(-90)" text-anchor="middle" font-size="12.5" fill="#111">ЧЁР</text>
<text transform="translate(1068.35,1697.00) rotate(-90)" text-anchor="middle" font-size="12.5" fill="#111">ЧЁР</text>
<path d="M1157.85,1006.00V1352.00" stroke="#4b4b4b" stroke-width="2.6" fill="none"/>
<text transform="translate(1150.95,1063.00) rotate(-90)" text-anchor="middle" font-size="12.5" fill="#111">ЧЁР</text>
<text transform="translate(1150.95,1267.00) rotate(-90)" text-anchor="middle" font-size="12.5" fill="#111">ЧЁР</text>
<text transform="translate(1150.95,1014.00) rotate(-90)" text-anchor="end" font-size="12.5" fill="#111">4</text>
<text transform="translate(1150.95,1316.00) rotate(-90)" text-anchor="start" font-size="12.5" fill="#111">8</text>
<path d="M1199.15,1006.00V1352.00" stroke="#4b4b4b" stroke-width="2.6" fill="none"/>
<text transform="translate(1192.25,1063.00) rotate(-90)" text-anchor="middle" font-size="12.5" fill="#111">ЧЁР</text>
<text transform="translate(1192.25,1267.00) rotate(-90)" text-anchor="middle" font-size="12.5" fill="#111">ЧЁР</text>
<text transform="translate(1192.25,1014.00) rotate(-90)" text-anchor="end" font-size="12.5" fill="#111">4</text>
<text transform="translate(1192.25,1316.00) rotate(-90)" text-anchor="start" font-size="12.5" fill="#111">8</text>
<path d="M1302.40,1006.00V1352.00" stroke="#cf74dc" stroke-width="4.2" fill="none"/>
<text transform="translate(1295.00,1080.00) rotate(-90)" text-anchor="middle" font-size="12.5" fill="#111">РОЗ/ЧЁР</text>
<text transform="translate(1295.00,1250.00) rotate(-90)" text-anchor="middle" font-size="12.5" fill="#111">РОЗ/ЧЁР</text>
<text transform="translate(1295.50,1020.00) rotate(-90)" text-anchor="end" font-size="12.5" fill="#111">9</text>
<text transform="translate(1295.50,1316.00) rotate(-90)" text-anchor="start" font-size="12.5" fill="#111">2</text>
<path d="M1385.00,1006.00V1352.00" stroke="#cf74dc" stroke-width="4.2" fill="none"/>
<text transform="translate(1377.60,1080.00) rotate(-90)" text-anchor="middle" font-size="12.5" fill="#111">РОЗ/ЧЁР</text>
<text transform="translate(1377.60,1250.00) rotate(-90)" text-anchor="middle" font-size="12.5" fill="#111">РОЗ/ЧЁР</text>
<text transform="translate(1378.10,1020.00) rotate(-90)" text-anchor="end" font-size="12.5" fill="#111">9</text>
<text transform="translate(1378.10,1316.00) rotate(-90)" text-anchor="start" font-size="12.5" fill="#111">2</text>
<text transform="translate(1399.10,1166.00) rotate(-90)" text-anchor="start" font-size="12.5" fill="#111">FR11</text>
<text transform="translate(1399.10,1184.00) rotate(-90)" text-anchor="end" font-size="12.5" fill="#111">F31</text>
<text transform="translate(1378.10,1184.00) rotate(-90)" text-anchor="end" font-size="12.5" fill="#111">8</text>
<path d="M352.50,1328.00V1352.00" stroke="#5f7388" stroke-width="3" fill="none"/>
<path d="M476.40,1328.00V1352.00" stroke="#5f7388" stroke-width="3" fill="none"/>
<path d="M579.65,1328.00V1352.00" stroke="#5f7388" stroke-width="3" fill="none"/>
<path d="M703.55,1328.00V1352.00" stroke="#5f7388" stroke-width="3" fill="none"/>
<path d="M786.15,1328.00V1352.00" stroke="#5f7388" stroke-width="3" fill="none"/>
<path d="M1157.85,1328.00V1352.00" stroke="#5f7388" stroke-width="3" fill="none"/>
<path d="M1199.15,1328.00V1352.00" stroke="#5f7388" stroke-width="3" fill="none"/>
<path d="M1302.40,1328.00V1352.00" stroke="#5f7388" stroke-width="3" fill="none"/>
<path d="M1385.00,1328.00V1352.00" stroke="#5f7388" stroke-width="3" fill="none"/>
<path d="M786.15,1352.00V1378.00" stroke="#5f7388" stroke-width="3" fill="none"/>
<path d="M1075.25,1328.00V1378.00" stroke="#5f7388" stroke-width="3" fill="none"/>
<path d="M352.5,1351.0V1352.0H786.15" stroke="#8096ac" stroke-width="2.3" fill="none"/>
<path d="M1075.25,1352.0H1385.0V1351.0" stroke="#8096ac" stroke-width="2.3" fill="none"/>
<path d="M1075.25,1378.00V1612.00" stroke="#4b4b4b" stroke-width="2.6" fill="none"/>
<circle cx="476.40" cy="1352.00" r="3.8" fill="#33475c"/>
<circle cx="579.65" cy="1352.00" r="3.8" fill="#33475c"/>
<circle cx="703.55" cy="1352.00" r="3.8" fill="#33475c"/>
<circle cx="786.15" cy="1352.00" r="3.8" fill="#33475c"/>
<circle cx="1075.25" cy="1352.00" r="3.8" fill="#33475c"/>
<circle cx="1157.85" cy="1352.00" r="3.8" fill="#33475c"/>
<circle cx="1199.15" cy="1352.00" r="3.8" fill="#33475c"/>
<circle cx="1302.40" cy="1352.00" r="3.8" fill="#33475c"/>
<path d="M347.5,1330.0L352.5,1336.0L357.5,1330.0" stroke="#2c3d4e" stroke-width="1.3" fill="none"/>
<path d="M471.4,1330.0L476.4,1336.0L481.4,1330.0" stroke="#2c3d4e" stroke-width="1.3" fill="none"/>
<path d="M574.65,1330.0L579.65,1336.0L584.65,1330.0" stroke="#2c3d4e" stroke-width="1.3" fill="none"/>
<path d="M698.55,1330.0L703.55,1336.0L708.55,1330.0" stroke="#2c3d4e" stroke-width="1.3" fill="none"/>
<path d="M781.15,1330.0L786.15,1336.0L791.15,1330.0" stroke="#2c3d4e" stroke-width="1.3" fill="none"/>
<path d="M1152.85,1330.0L1157.85,1336.0L1162.85,1330.0" stroke="#2c3d4e" stroke-width="1.3" fill="none"/>
<path d="M1194.15,1330.0L1199.15,1336.0L1204.15,1330.0" stroke="#2c3d4e" stroke-width="1.3" fill="none"/>
<path d="M1297.4,1330.0L1302.4,1336.0L1307.4,1330.0" stroke="#2c3d4e" stroke-width="1.3" fill="none"/>
<path d="M1380.0,1330.0L1385.0,1336.0L1390.0,1330.0" stroke="#2c3d4e" stroke-width="1.3" fill="none"/>
<text x="320.50" y="1340.50" text-anchor="end" font-size="12.5" fill="#161616">J/C M03</text>
<text x="320.50" y="1355.50" text-anchor="end" font-size="12.5" fill="#161616">ШИНА</text>
<text x="320.50" y="1370.50" text-anchor="end" font-size="12.5" fill="#161616">ДЛЯ</text>
<text x="320.50" y="1385.50" text-anchor="end" font-size="12.5" fill="#161616">МАССЫ</text>
<text x="320.50" y="1400.50" text-anchor="end" font-size="12.5" fill="#161616">ЧЁР</text>
<text x="1408.00" y="1339.00" text-anchor="start" font-size="12.5" fill="#161616">J/C B1</text>
<text x="1408.00" y="1355.50" text-anchor="start" font-size="12.5" fill="#161616">РАЗЪЕМ ПР</text>
<text x="1408.00" y="1371.00" text-anchor="start" font-size="12.5" fill="#161616">ЧЁРН МАСС</text>
<rect x="1493" y="1344" width="7" height="12" fill="#000"/>
<path d="M1075.25,1737C1080.25,1723 1088.25,1716 1105.25,1716H1162" stroke="#4b4b4b" stroke-width="3" fill="none"/>
<text x="1131.00" y="1710.50" text-anchor="middle" font-size="12.5" fill="#161616">ЧЁРН</text>
<path d="M1162,1715L1181,1701V1731Z" fill="#cfe6e6" stroke="#7d9b9b" stroke-width="1.2"/>
<text x="1186.00" y="1701.50" text-anchor="start" font-size="12.5" fill="#161616">СМ СХЕМУ РАСПР.</text>
<text x="1186.00" y="1717.50" text-anchor="start" font-size="12.5" fill="#161616">ПИТАНИЯ</text>
<text x="1196.00" y="1733.50" text-anchor="start" font-size="12.5" fill="#161616">(ГЛ G)</text>
<text x="1075.25" y="1763.00" text-anchor="middle" font-size="12.5" fill="#161616">G22</text>
<text x="1075.25" y="1780.50" text-anchor="middle" font-size="12.5" fill="#161616">ЗА ПРИБОРНОЙ</text>
<text x="1075.25" y="1795.00" text-anchor="middle" font-size="12.5" fill="#161616">ПАНЕЛЬЮ</text>
<rect x="9" y="1835" width="122" height="21" fill="#efefef"/>
<text class="code" x="15" y="1846.5" font-size="11" font-weight="bold" fill="#555" textLength="110" lengthAdjust="spacingAndGlyphs">EKRG190B-R07-1RC</text>
</g>
</g>
</defs>
<rect x="0" y="0" width="1500" height="1861" fill="#fff"/>
<g clip-path="url(#ctop)"><use href="#dwg"/>
<path d="M1.3,558V1.2H1498.7V558" fill="none" stroke="#0b0b0b" stroke-width="2.6"/></g>
<g clip-path="url(#cbot)"><g filter="url(#soft)"><use href="#dwg"/></g>
<path d="M0,500V1861H1500V500" fill="none" stroke="#000" stroke-opacity=".5" stroke-width="11.6" stroke-linejoin="miter" filter="url(#edgeblur)"/></g>
</svg>
<div id="edge-l"></div>
</div>
</body>
</html>
